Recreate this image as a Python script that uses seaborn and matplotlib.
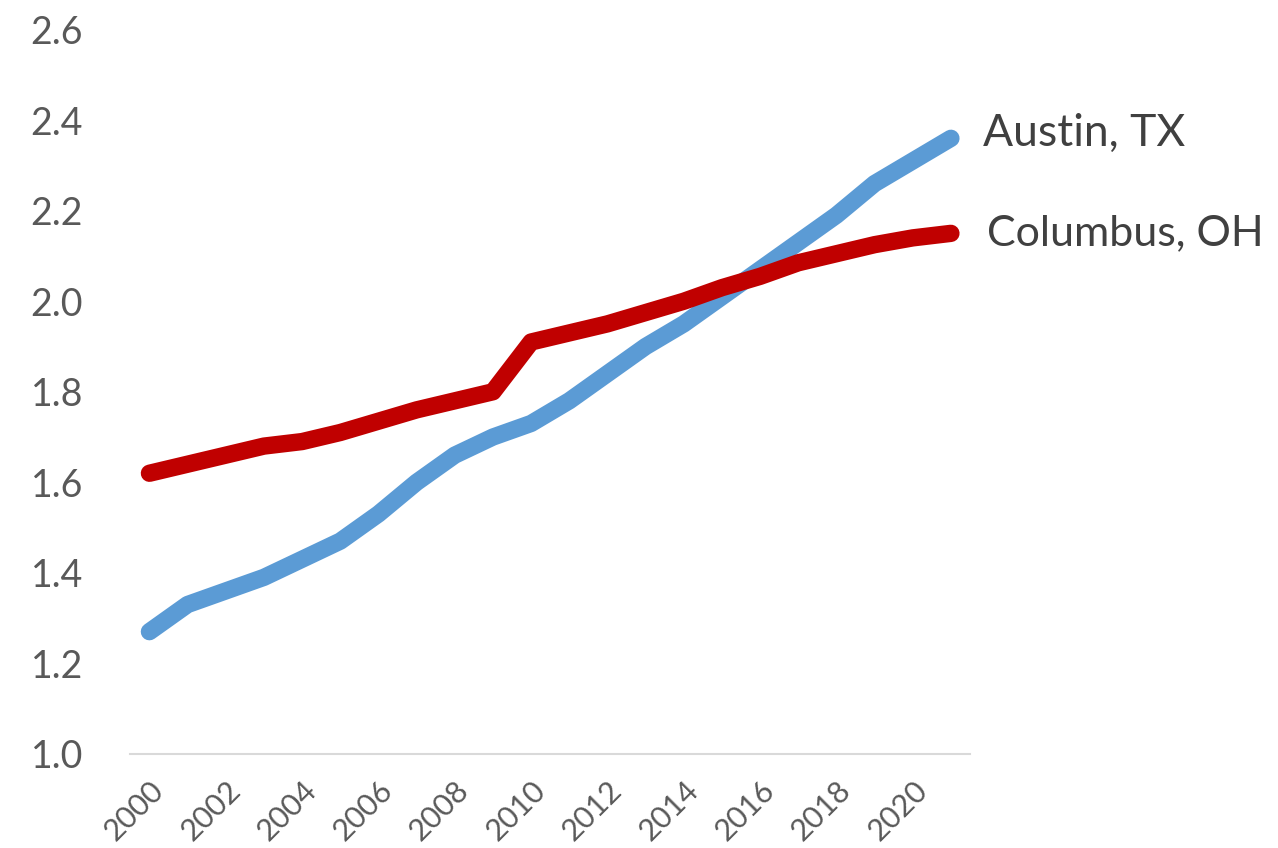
import matplotlib
matplotlib.use("Agg")
import matplotlib.pyplot as plt
import seaborn as sns
import pandas as pd

years = list(range(2000, 2022))
austin = [1.27, 1.33, 1.36, 1.39, 1.43, 1.47, 1.53, 1.60, 1.66, 1.70, 1.73,
          1.78, 1.84, 1.90, 1.95, 2.01, 2.07, 2.13, 2.19, 2.26, 2.31, 2.36]
columbus = [1.62, 1.64, 1.66, 1.68, 1.69, 1.71, 1.735, 1.76, 1.78, 1.80, 1.91,
            1.93, 1.95, 1.975, 2.00, 2.03, 2.055, 2.085, 2.105, 2.125, 2.14, 2.15]
series_names = ["Austin, TX", "Columbus, OH"]
y_ticks = [1.0, 1.2, 1.4, 1.6, 1.8, 2.0, 2.2, 2.4, 2.6]
x_ticks = list(range(2000, 2021, 2))

df = pd.DataFrame({
    "year": years * 2,
    "value": austin + columbus,
    "city": [series_names[0]] * len(years) + [series_names[1]] * len(years),
})

sns.set_theme(style="white")
plt.rcParams["font.family"] = ["Lato", "DejaVu Sans"]

fig = plt.figure(figsize=(12.78, 8.48), dpi=100)
ax = fig.add_axes([0.102, 0.111, 0.657, 0.854])

palette = {series_names[0]: "#5B9BD5", series_names[1]: "#C00000"}
sns.lineplot(data=df, x="year", y="value", hue="city", palette=palette,
             linewidth=12.5, ax=ax, legend=False,
             solid_capstyle="round", solid_joinstyle="round")

ax.set_xlim(1999.5, 2021.5)
ax.set_ylim(1.0, 2.6)
ax.set_yticks(y_ticks)
ax.set_yticklabels([f"{v:.1f}" for v in y_ticks])
ax.set_xticks(x_ticks)
ax.set_xticklabels([str(x) for x in x_ticks], rotation=45, ha="right",
                   rotation_mode="anchor")
ax.tick_params(axis="y", labelsize=27, colors="#595959", length=0, pad=34)
ax.tick_params(axis="x", labelsize=22, colors="#595959", length=0, pad=16)
ax.set_xlabel("")
ax.set_ylabel("")
for side in ["top", "right", "left"]:
    ax.spines[side].set_visible(False)
ax.spines["bottom"].set_color("#d9d9d9")
ax.spines["bottom"].set_linewidth(1.5)
ax.grid(False)

ax.text(2021.3 + 0.55, austin[-1] + 0.01, series_names[0], fontsize=32,
        color="#404040", va="center", ha="left", clip_on=False)
ax.text(2021.3 + 0.65, columbus[-1], series_names[1], fontsize=31,
        color="#404040", va="center", ha="left", clip_on=False)

fig.savefig("out.png", dpi=100)
